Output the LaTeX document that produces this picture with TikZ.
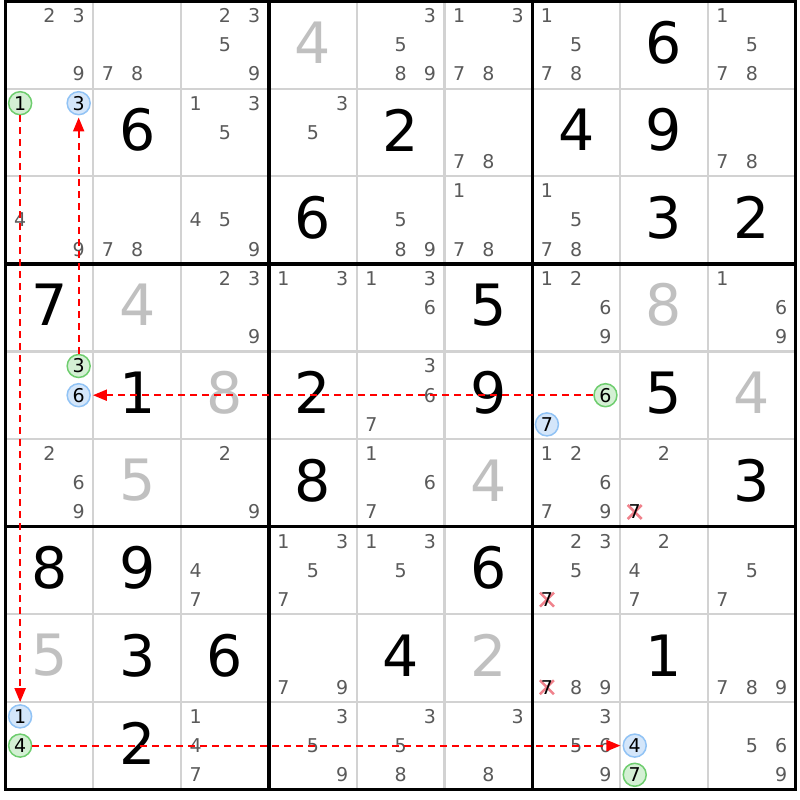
\documentclass[tikz,border=0pt]{standalone}
\usepackage{fontspec}
\setmainfont{DejaVu Sans}
\usetikzlibrary{arrows.meta}

\definecolor{candgrey}{RGB}{90,90,90}
\definecolor{solvedgrey}{RGB}{192,192,192}
\definecolor{thingrey}{RGB}{210,210,210}
\definecolor{greenfill}{RGB}{212,240,212}
\definecolor{greenline}{RGB}{110,205,110}
\definecolor{bluefill}{RGB}{212,230,250}
\definecolor{blueline}{RGB}{145,195,245}
\definecolor{elimred}{RGB}{240,130,140}

% position of candidate #3 in column #1, row #2
\newcommand\setcandpos[3]{%
  \pgfmathsetmacro\px{5.5+87.8*(#1+(2*mod(#3-1,3)+1)/6)}%
  \pgfmathsetmacro\py{1+87.6*(#2+(2*div(#3-1,3)+1)/6)}}

\newcommand\cands[3]{%
  \foreach \d in {#3}{%
    \setcandpos{#1}{#2}{\d}%
    \node (r#2c#1n\d) [cand] at (\px,\py) {\d};}}

\newcommand\ringcand[4]{%
  \setcandpos{#2}{#3}{#4}%
  \node (r#3c#2n#4) [#1] at (\px,\py) {#4};}

\newcommand\elimcand[3]{%
  \setcandpos{#1}{#2}{#3}%
  \draw [elim] (\px-7,\py-7) -- (\px+7,\py+7) (\px-7,\py+7) -- (\px+7,\py-7);
  \node (r#2c#1n#3) [cand, text=black] at (\px,\py) {#3};}

\newcommand\digit[4]{%
  \pgfmathsetmacro\px{5.5+87.8*(#2+0.5)}%
  \pgfmathsetmacro\py{1+87.6*(#3+0.5)-2.5}%
  \node (r#3c#2) [#1] at (\px,\py) {#4};}

\begin{document}
\begin{tikzpicture}[x=1pt, y=-1pt,
    cand/.style={text=candgrey, inner sep=0pt, font=\fontsize{19}{19}\selectfont},
    given/.style={text=black, inner sep=0pt, font=\fontsize{57}{57}\selectfont},
    solved/.style={given, text=solvedgrey},
    greenmark/.style={circle, draw=greenline, fill=greenfill, line width=1.5pt,
      minimum size=23pt, inner sep=0pt, font=\fontsize{19}{19}\selectfont},
    bluemark/.style={greenmark, draw=blueline, fill=bluefill},
    linkarrow/.style={red, line width=2pt, dash pattern=on 7pt off 5pt,
      -{Triangle[length=14pt,width=11pt]}, shorten >=2pt},
    elim/.style={elimred, line width=2.5pt},
    thinline/.style={thingrey, line width=2.2pt},
    boxline/.style={black, line width=3.4pt}]

\fill [white] (0,0) rectangle (800,800);
\useasboundingbox (0,0) rectangle (800,800);

% grid
\foreach \i in {1,2,4,5,7,8} {
  \draw [thinline] ({5.5+87.8*\i},1) -- ({5.5+87.8*\i},789.4);
  \draw [thinline] (5.5,{1+87.6*\i}) -- (795.7,{1+87.6*\i});
}
\foreach \i in {0,3,6,9} {
  \draw [boxline] ({5.5+87.8*\i},-0.5) -- ({5.5+87.8*\i},791.1);
  \draw [boxline] (3.8,{1+87.6*\i}) -- (797.4,{1+87.6*\i});
}

% row 0
\cands{0}{0}{2,3,9}
\cands{1}{0}{7,8}
\cands{2}{0}{2,3,5,9}
\digit{solved}{3}{0}{4}
\cands{4}{0}{3,5,8,9}
\cands{5}{0}{1,3,7,8}
\cands{6}{0}{1,5,7,8}
\digit{given}{7}{0}{6}
\cands{8}{0}{1,5,7,8}

% row 1
\ringcand{greenmark}{0}{1}{1}
\ringcand{bluemark}{0}{1}{3}
\digit{given}{1}{1}{6}
\cands{2}{1}{1,3,5}
\cands{3}{1}{3,5}
\digit{given}{4}{1}{2}
\cands{5}{1}{7,8}
\digit{given}{6}{1}{4}
\digit{given}{7}{1}{9}
\cands{8}{1}{7,8}

% row 2
\cands{0}{2}{4,9}
\cands{1}{2}{7,8}
\cands{2}{2}{4,5,9}
\digit{given}{3}{2}{6}
\cands{4}{2}{5,8,9}
\cands{5}{2}{1,7,8}
\cands{6}{2}{1,5,7,8}
\digit{given}{7}{2}{3}
\digit{given}{8}{2}{2}

% row 3
\digit{given}{0}{3}{7}
\digit{solved}{1}{3}{4}
\cands{2}{3}{2,3,9}
\cands{3}{3}{1,3}
\cands{4}{3}{1,3,6}
\digit{given}{5}{3}{5}
\cands{6}{3}{1,2,6,9}
\digit{solved}{7}{3}{8}
\cands{8}{3}{1,6,9}

% row 4
\ringcand{greenmark}{0}{4}{3}
\ringcand{bluemark}{0}{4}{6}
\digit{given}{1}{4}{1}
\digit{solved}{2}{4}{8}
\digit{given}{3}{4}{2}
\cands{4}{4}{3,6,7}
\digit{given}{5}{4}{9}
\ringcand{greenmark}{6}{4}{6}
\ringcand{bluemark}{6}{4}{7}
\digit{given}{7}{4}{5}
\digit{solved}{8}{4}{4}

% row 5
\cands{0}{5}{2,6,9}
\digit{solved}{1}{5}{5}
\cands{2}{5}{2,9}
\digit{given}{3}{5}{8}
\cands{4}{5}{1,6,7}
\digit{solved}{5}{5}{4}
\cands{6}{5}{1,2,6,7,9}
\cands{7}{5}{2}
\elimcand{7}{5}{7}
\digit{given}{8}{5}{3}

% row 6
\digit{given}{0}{6}{8}
\digit{given}{1}{6}{9}
\cands{2}{6}{4,7}
\cands{3}{6}{1,3,5,7}
\cands{4}{6}{1,3,5}
\digit{given}{5}{6}{6}
\cands{6}{6}{2,3,5}
\elimcand{6}{6}{7}
\cands{7}{6}{2,4,7}
\cands{8}{6}{5,7}

% row 7
\digit{solved}{0}{7}{5}
\digit{given}{1}{7}{3}
\digit{given}{2}{7}{6}
\cands{3}{7}{7,9}
\digit{given}{4}{7}{4}
\digit{solved}{5}{7}{2}
\elimcand{6}{7}{7}
\cands{6}{7}{8,9}
\digit{given}{7}{7}{1}
\cands{8}{7}{7,8,9}

% row 8
\ringcand{bluemark}{0}{8}{1}
\ringcand{greenmark}{0}{8}{4}
\digit{given}{1}{8}{2}
\cands{2}{8}{1,4,7}
\cands{3}{8}{3,5,9}
\cands{4}{8}{3,5,8}
\cands{5}{8}{3,8}
\cands{6}{8}{3,5,6,9}
\ringcand{bluemark}{7}{8}{4}
\ringcand{greenmark}{7}{8}{7}
\cands{8}{8}{5,6,9}

% links
\draw [linkarrow] (r1c0n1) -- (r8c0n1);
\draw [linkarrow] (r4c0n3) -- (r1c0n3);
\draw [linkarrow] (r4c6n6) -- (r4c0n6);
\draw [linkarrow] (r8c0n4) -- (r8c7n4);
\end{tikzpicture}
\end{document}
